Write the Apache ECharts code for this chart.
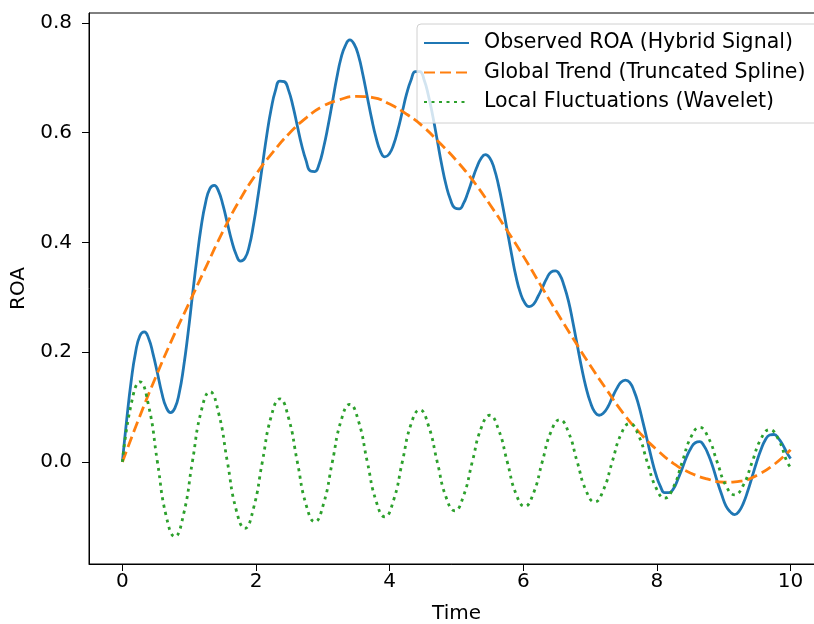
<!DOCTYPE html>
<html>
<head>
<meta charset="utf-8">
<script src="https://cdn.jsdelivr.net/npm/echarts@6/dist/echarts.min.js"></script>
<style>html,body{margin:0;padding:0;background:#fff}#c{width:814px;height:624px}</style>
</head>
<body>
<div id="c"></div>
<script>
// Observed ROA (Hybrid Signal)
var tObserved = [0,0.065,0.131,0.196,0.262,0.327,0.393,0.458,0.524,0.589,0.654,0.72,0.785,0.851,0.916,0.982,1.047,1.113,1.178,1.244,1.309,1.374,1.44,1.505,1.571,1.636,1.702,1.767,1.833,1.898,1.963,2.029,2.094,2.16,2.225,2.291,2.356,2.422,2.487,2.553,2.618,2.683,2.749,2.814,2.88,2.945,3.011,3.076,3.142,3.207,3.272,3.338,3.403,3.469,3.534,3.6,3.665,3.731,3.796,3.862,3.927,3.993,4.058,4.123,4.189,4.254,4.32,4.385,4.451,4.516,4.581,4.647,4.712,4.778,4.843,4.909,4.974,5.04,5.105,5.171,5.236,5.301,5.367,5.432,5.498,5.563,5.629,5.694,5.76,5.825,5.89,5.956,6.021,6.087,6.152,6.218,6.283,6.349,6.414,6.48,6.545,6.61,6.676,6.741,6.807,6.872,6.938,7.003,7.069,7.134,7.199,7.265,7.33,7.396,7.461,7.527,7.592,7.658,7.723,7.789,7.854,7.92,7.985,8.05,8.116,8.181,8.247,8.312,8.378,8.443,8.508,8.574,8.639,8.705,8.77,8.836,8.901,8.967,9.032,9.098,9.163,9.228,9.294,9.359,9.425,9.49,9.556,9.621,9.687,9.752,9.818,9.883,9.948,10];
var observed = [0,0.078,0.147,0.199,0.230,0.237,0.225,0.197,0.162,0.126,
0.100,0.090,0.098,0.126,0.173,0.234,0.302,0.369,0.428,0.472,
0.498,0.504,0.493,0.468,0.435,0.403,0.378,0.366,0.371,0.393,
0.433,0.484,0.539,0.595,0.642,0.677,0.694,0.693,0.677,0.648,
0.612,0.577,0.549,0.530,0.529,0.543,0.573,0.611,0.655,0.699,
0.736,0.759,0.769,0.761,0.740,0.705,0.665,0.625,0.591,0.566,
0.556,0.561,0.578,0.605,0.638,0.671,0.696,0.711,0.711,0.696,
0.667,0.629,0.586,0.542,0.505,0.478,0.463,0.461,0.471,0.491,
0.514,0.536,0.553,0.560,0.554,0.535,0.504,0.465,0.421,0.378,
0.338,0.308,0.290,0.283,0.287,0.301,0.317,0.334,0.346,0.348,
0.341,0.321,0.293,0.255,0.213,0.172,0.136,0.109,0.091,0.085,
0.089,0.100,0.117,0.133,0.145,0.149,0.145,0.129,0.105,0.073,
0.040,0.006,-0.023,-0.044,-0.056,-0.056,-0.049,-0.032,-0.012,0.009,
0.025,0.035,0.037,0.029,0.013,-0.009,-0.035,-0.059,-0.080,-0.091,
-0.096,-0.090,-0.075,-0.053,-0.027,-0.001,0.022,0.040,0.049,0.050,
0.043,0.031,0.016,0.006];

// Global Trend (Truncated Spline)
var tTrend = [0,0.25,0.5,0.75,1,1.25,1.5,1.75,2,2.25,2.5,2.75,3,3.25,3.5,3.75,4,4.25,4.5,4.75,5,5.25,5.5,5.75,6,6.25,6.5,6.75,7,7.25,7.5,7.75,8,8.25,8.5,8.75,9,9.25,9.5,9.75,10];
var trend = [0.000,0.080,0.155,0.225,0.290,0.355,0.419,0.476,0.524,0.564,0.599,0.627,0.648,0.660,0.666,0.664,0.652,0.634,0.611,0.581,0.549,0.512,0.469,0.423,0.375,0.324,0.273,0.224,0.176,0.131,0.088,0.052,0.022,-0.003,-0.020,-0.031,-0.037,-0.035,-0.024,-0.005,0.022];

// Local Fluctuations (Wavelet)
var tWavelet = [0,0.131,0.262,0.393,0.524,0.654,0.785,0.916,1.047,1.178,1.309,1.44,1.571,1.702,1.833,1.963,2.094,2.225,2.356,2.487,2.618,2.749,2.88,3.011,3.142,3.272,3.403,3.534,3.665,3.796,3.927,4.058,4.189,4.32,4.451,4.581,4.712,4.843,4.974,5.105,5.236,5.367,5.498,5.629,5.76,5.89,6.021,6.152,6.283,6.414,6.545,6.676,6.807,6.938,7.069,7.199,7.33,7.461,7.592,7.723,7.854,7.985,8.116,8.247,8.378,8.508,8.639,8.77,8.901,9.032,9.163,9.294,9.425,9.556,9.687,9.818,9.948,10];
var wavelet = [0,0.105,0.146,0.102,0,-0.098,-0.136,-0.095,0,0.092,0.128,0.089,0,-0.087,-0.121,-0.084,0,0.082,0.115,0.080,0,-0.078,-0.109,-0.076,0,0.075,0.105,0.074,0,-0.071,-0.100,-0.070,0,0.069,0.095,0.066,0,-0.064,-0.089,-0.062,0,0.061,0.085,0.059,0,-0.058,-0.081,-0.057,0,0.055,0.077,0.054,0,-0.052,-0.073,-0.051,0,0.050,0.070,0.049,0,-0.047,-0.066,-0.046,0,0.045,0.063,0.044,0,-0.043,-0.060,-0.042,0,0.042,0.059,0.041,0,-0.010];

var xTicks = [0,2,4,6,8,10];
var yTicks = [0,0.2,0.4,0.6,0.8];
var seriesNames = ['Observed ROA (Hybrid Signal)','Global Trend (Truncated Spline)','Local Fluctuations (Wavelet)'];

function pairs(xs, ys){ return xs.map(function(x,i){ return [x, ys[i]]; }); }

var FONT = 'DejaVu Sans';
var FS = 20;
var chart = echarts.init(document.getElementById('c'), null, {renderer:'canvas'});
chart.setOption({
  animation: false,
  backgroundColor: '#fff',
  grid: {left: 89, top: 13, right: -10, bottom: 60, outerBoundsMode: 'none', containLabel: false,
         show: true, borderColor: '#000', borderWidth: 1, backgroundColor: 'transparent'},
  legend: {
    orient: 'vertical', left: 417, top: 24,
    padding: [8, 19, 10, 6],
    itemWidth: 45, itemHeight: 14, itemGap: 7.5,
    itemStyle: {opacity: 0},
    backgroundColor: 'rgba(255,255,255,0.8)', borderColor: '#d0d0d0', borderWidth: 1, borderRadius: 4,
    textStyle: {fontFamily: FONT, fontSize: 20.5, color: '#000', lineHeight: 22, padding: [0,0,0,10]},
    data: seriesNames
  },
  xAxis: {
    type: 'value', min: -0.5, max: 10.5,
    name: 'Time', nameLocation: 'middle', nameGap: 40,
    nameTextStyle: {fontFamily: FONT, fontSize: FS, color: '#000'},
    axisLine: {show: true, onZero: false, lineStyle: {color: '#000', width: 1}},
    axisTick: {show: true, length: 7, customValues: xTicks, lineStyle: {color: '#000', width: 1}},
    axisLabel: {customValues: xTicks, fontFamily: FONT, fontSize: FS, color: '#000', margin: 8,
      formatter: function(v){ return String(v); }},
    splitLine: {show: false}
  },
  yAxis: {
    type: 'value', min: -0.186, max: 0.818,
    name: 'ROA', nameLocation: 'middle', nameGap: 58, nameRotate: 90,
    nameTextStyle: {fontFamily: FONT, fontSize: FS, color: '#000'},
    axisLine: {show: true, onZero: false, lineStyle: {color: '#000', width: 1}},
    axisTick: {show: true, length: 7, customValues: yTicks, lineStyle: {color: '#000', width: 1}},
    axisLabel: {customValues: yTicks, fontFamily: FONT, fontSize: FS, color: '#000', margin: 17,
      formatter: function(v){ return v.toFixed(1); }},
    splitLine: {show: false}
  },
  series: [
    {name: seriesNames[0], type: 'line', data: pairs(tObserved, observed), smooth: 0.5, symbol: 'none',
     lineStyle: {color: '#1f77b4', width: 2.8}, itemStyle: {color: '#1f77b4'}, z: 3},
    {name: seriesNames[1], type: 'line', data: pairs(tTrend, trend), smooth: 0.5, symbol: 'none',
     lineStyle: {color: '#ff7f0e', width: 2.8, type: [11, 5]}, itemStyle: {color: '#ff7f0e'}, z: 4},
    {name: seriesNames[2], type: 'line', data: pairs(tWavelet, wavelet), smooth: 0.5, symbol: 'none',
     lineStyle: {color: '#2ca02c', width: 2.8, type: [3, 4.5]}, itemStyle: {color: '#2ca02c'}, z: 5}
  ]
});
</script>
</body>
</html>
